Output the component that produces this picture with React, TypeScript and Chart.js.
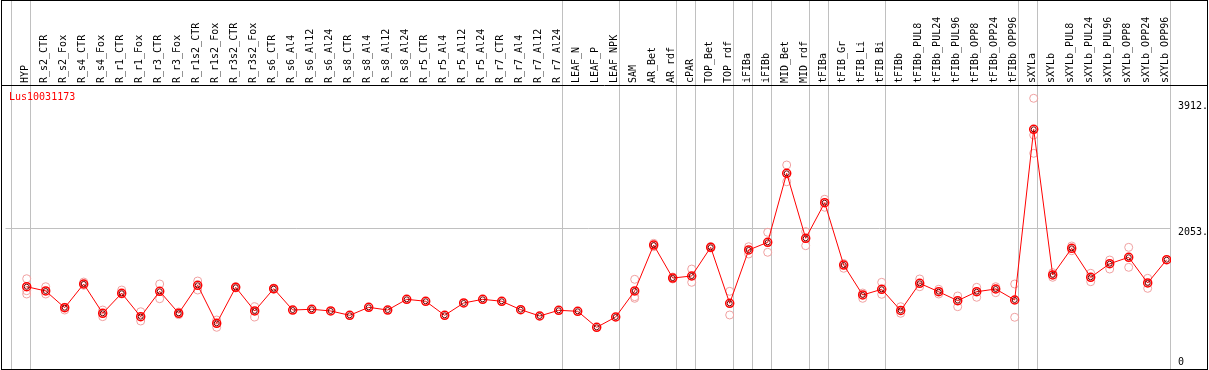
import React, { useEffect, useRef } from 'react';
import { Chart, registerables } from 'chart.js';

Chart.register(...registerables);

const geneId = 'Lus10031173';

const categories = [
  'HYP',
  'R_s2_CTR', 'R_s2_Fox', 'R_s4_CTR', 'R_s4_Fox', 'R_r1_CTR', 'R_r1_Fox', 'R_r3_CTR', 'R_r3_Fox',
  'R_r1s2_CTR', 'R_r1s2_Fox', 'R_r3s2_CTR', 'R_r3s2_Fox',
  'R_s6_CTR', 'R_s6_Al4', 'R_s6_Al12', 'R_s6_Al24',
  'R_s8_CTR', 'R_s8_Al4', 'R_s8_Al12', 'R_s8_Al24',
  'R_r5_CTR', 'R_r5_Al4', 'R_r5_Al12', 'R_r5_Al24',
  'R_r7_CTR', 'R_r7_Al4', 'R_r7_Al12', 'R_r7_Al24',
  'LEAF_N', 'LEAF_P', 'LEAF_NPK',
  'SAM', 'AR_Bet', 'AR_rdf', 'cPAR', 'TOP_Bet', 'TOP_rdf', 'iFIBa', 'iFIBb',
  'MID_Bet', 'MID_rdf', 'tFIBa', 'tFIB_Gr', 'tFIB_Li', 'tFIB_Bi',
  'tFIBb', 'tFIBb_PUL8', 'tFIBb_PUL24', 'tFIBb_PUL96', 'tFIBb_OPP8', 'tFIBb_OPP24', 'tFIBb_OPP96',
  'sXYLa', 'sXYLb', 'sXYLb_PUL8', 'sXYLb_PUL24', 'sXYLb_PUL96', 'sXYLb_OPP8', 'sXYLb_OPP24', 'sXYLb_OPP96',
];

const meanValues = [
  1192,
  1129, 882, 1232, 800, 1095, 750, 1124, 800,
  1213, 652, 1183, 834,
  1163, 848, 859, 834,
  770, 888, 848, 1006,
  977, 770, 952, 1006,
  977, 853, 760, 844,
  829, 593, 745,
  1129, 1807, 1320, 1350, 1773, 947, 1734, 1847,
  2865, 1906, 2431, 1512, 1070, 1154,
  841, 1242, 1118, 986, 1118, 1158, 996,
  3514, 1365, 1759, 1331, 1531, 1626, 1247, 1590,
];

const rep1 = [
  1310,
  1192, 888, 1261, 848, 1143, 823, 1232, 819,
  1276, 701, 1192, 897,
  1173, null, null, null,
  null, null, null, null,
  null, null, null, null,
  null, null, null, null,
  null, null, null,
  1301, 1832, 1335, 1453, 1783, 1124, 1782, 1995,
  2988, 2004, 2482, 1534, 1099, 1257,
  897, 1306, 1154, 1055, 1183, 1192, 1232,
  3972, 1399, 1793, 1390, 1586, 1773, 1316, null,
];

const rep2 = [
  1133,
  1084, 848, 1213, 750, 1084, 686, 1015, 779,
  1143, 593, 1173, 745,
  1153, null, null, null,
  null, null, null, null,
  null, null, null, null,
  null, null, null, null,
  null, null, null,
  1045, 1782, 1306, 1257, 1763, 775, 1675, 1700,
  2741, 1797, 2364, 1464, 1021, 1080,
  800, 1192, 1084, 897, 1036, 1104, 741,
  3430, 1331, 1723, 1266, 1453, 1478, 1168, null,
];

const rep3 = [
  1084,
  null, null, null, null, null, null, null, null,
  null, null, null, null,
  null, null, null, null,
  null, null, null, null,
  null, null, null, null,
  null, null, null, null,
  null, null, null,
  1021, null, null, null, null, null, null, null,
  null, null, null, null, null, null,
  null, null, null, null, null, null, null,
  3160, null, null, null, null, null, null, null,
];

// index of the last category in each sample group (-1 = left edge)
const groupEnds = [-1, 0, 28, 31, 34, 35, 37, 38, 39, 41, 42, 45, 52, 53, 60];

const yTickValues = [0, 2053, 3912];
const yTickLabels = ['0', '2053.', '3912.'];

const FONT = '"DejaVu Sans Mono", monospace';

// pixel calibration of the plot frame
const X_FIRST = 26.7; // pixel of category 0
const X_STEP = 19; // pixels per category
const Y_ZERO = 367.5; // pixel of value 0
const Y_PER_PX = 14.754; // value units per pixel

export default function App() {
  const canvasRef = useRef<HTMLCanvasElement | null>(null);

  useEffect(() => {
    const canvas = canvasRef.current;
    if (!canvas) return;

    const repPoints: { x: number; y: number }[] = [];
    [rep1, rep2, rep3].forEach((arr) => {
      arr.forEach((v, i) => {
        if (v !== null) repPoints.push({ x: i, y: v as number });
      });
    });
    const meanPoints = meanValues.map((v, i) => ({ x: i, y: v }));

    const framePlugin = {
      id: 'frameDecor',
      beforeDatasetsDraw(chart: any) {
        const { ctx } = chart;
        const xs = chart.scales.x;
        ctx.save();
        ctx.strokeStyle = '#c0c0c0';
        ctx.lineWidth = 1;
        groupEnds.forEach((g) => {
          const px = Math.floor(xs.getPixelForValue(g + 0.21)) + 0.5;
          ctx.beginPath();
          ctx.moveTo(px, 0);
          ctx.lineTo(px, 369.5);
          ctx.stroke();
        });
        ctx.restore();
      },
      afterDraw(chart: any) {
        const { ctx } = chart;
        ctx.save();
        ctx.strokeStyle = '#000';
        ctx.lineWidth = 1;
        ctx.strokeRect(1.5, 0.5, 1206, 369);
        ctx.beginPath();
        ctx.moveTo(1.5, 85.5);
        ctx.lineTo(1207.5, 85.5);
        ctx.stroke();
        ctx.fillStyle = '#ff0000';
        ctx.font = '10px ' + FONT;
        ctx.textBaseline = 'middle';
        ctx.textAlign = 'left';
        ctx.fillText(geneId, 9, 97.5);
        ctx.restore();
      },
    };

    const chart: any = new Chart(canvas, {
      type: 'scatter',
      data: {
        datasets: [
          {
            label: 'replicates',
            data: repPoints,
            showLine: false,
            pointRadius: 4,
            pointBorderWidth: 1,
            pointBorderColor: '#f0a0a0',
            pointBackgroundColor: 'rgba(0,0,0,0)',
            order: 3,
          },
          {
            label: 'mean',
            data: meanPoints,
            showLine: true,
            borderColor: '#ff0000',
            borderWidth: 1,
            pointRadius: 4,
            pointBorderWidth: 1.5,
            pointBorderColor: '#ff0000',
            pointBackgroundColor: 'rgba(0,0,0,0)',
            order: 1,
          },
          {
            label: 'meanInner',
            data: meanPoints,
            showLine: false,
            pointRadius: 2.5,
            pointBorderWidth: 1,
            pointBorderColor: '#700000',
            pointBackgroundColor: 'rgba(0,0,0,0)',
            order: 0,
          },
        ],
      },
      options: {
        responsive: false,
        animation: false,
        devicePixelRatio: 1,
        events: [],
        layout: { padding: { left: 2, right: 0, top: 1, bottom: 2 } },
        plugins: { legend: { display: false }, tooltip: { enabled: false } },
        scales: {
          x: {
            type: 'linear',
            position: 'top',
            min: -1.3,
            max: 60.226,
            grid: { display: false, drawTicks: false },
            border: { display: false },
            afterBuildTicks: (scale: any) => {
              scale.ticks = categories.map((_, i) => ({ value: i }));
            },
            afterFit: (scale: any) => {
              scale.height = 84;
            },
            ticks: {
              autoSkip: false,
              minRotation: 90,
              maxRotation: 90,
              padding: 2,
              labelOffset: 11,
              color: '#000',
              font: { family: FONT, size: 10 },
              callback: (v: any) => categories[Math.round(Number(v))] ?? '',
            },
          },
          y: {
            type: 'linear',
            position: 'right',
            min: 0,
            max: 4175,
            grid: {
              drawTicks: false,
              color: (ctx: any) => (ctx.tick && ctx.tick.value === 2053 ? '#c0c0c0' : 'rgba(0,0,0,0)'),
            },
            border: { display: false },
            afterBuildTicks: (scale: any) => {
              scale.ticks = yTickValues.map((v) => ({ value: v }));
            },
            afterFit: (scale: any) => {
              scale.width = 38;
            },
            ticks: {
              padding: 7,
              labelOffset: 4,
              color: '#000',
              font: (ctx: any) =>
                ctx.tick && ctx.tick.value === 0
                  ? { family: FONT, size: 10, lineHeight: '17.6px' }
                  : { family: FONT, size: 10 },
              callback: (v: any) => {
                const idx = yTickValues.indexOf(Number(v));
                const lbl = idx >= 0 ? yTickLabels[idx] : '';
                return Number(v) === 0 ? [lbl, ''] : lbl;
              },
            },
          },
        },
      },
      plugins: [framePlugin],
    });

    // calibrate scale limits to the plot frame so values land where intended
    for (let pass = 0; pass < 3; pass++) {
      const ca = chart.chartArea;
      chart.options.scales.x.min = (ca.left - X_FIRST) / X_STEP;
      chart.options.scales.x.max = (ca.right - X_FIRST) / X_STEP;
      chart.options.scales.y.min = (Y_ZERO - ca.bottom) * Y_PER_PX;
      chart.options.scales.y.max = (Y_ZERO - ca.top) * Y_PER_PX;
      chart.update();
    }

    return () => chart.destroy();
  }, []);

  return (
    <div style={{ position: 'absolute', left: 0, top: 0, width: 1209, height: 370, background: '#fff' }}>
      <canvas ref={canvasRef} width={1209} height={370} />
    </div>
  );
}
